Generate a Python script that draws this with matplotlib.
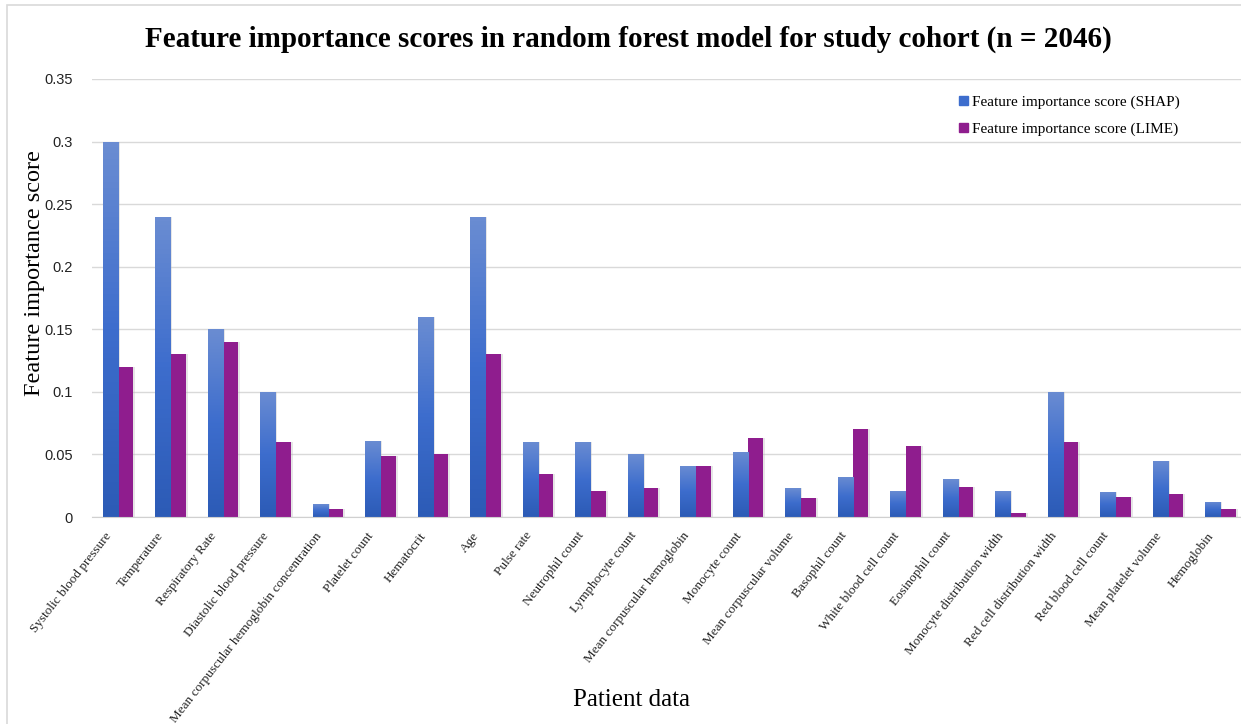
import matplotlib
matplotlib.use('Agg')
import matplotlib.pyplot as plt
import numpy as np
from matplotlib.colors import LinearSegmentedColormap
from matplotlib.patches import Patch, Rectangle
import matplotlib.transforms as mtransforms

features = [
    'Systolic blood pressure', 'Temperature', 'Respiratory Rate', 'Diastolic blood pressure',
    'Mean corpuscular hemoglobin concentration', 'Platelet count', 'Hematocrit', 'Age',
    'Pulse rate', 'Neutrophil count', 'Lymphocyte count', 'Mean corpuscular hemoglobin',
    'Monocyte count', 'Mean corpuscular volume', 'Basophil count', 'White blood cell count',
    'Eosinophil count', 'Monocyte distribution width', 'Red cell distribution width',
    'Red blood cell count', 'Mean platelet volume', 'Hemoglobin',
]
shap = [0.30, 0.24, 0.15, 0.10, 0.010, 0.061, 0.16, 0.24, 0.060, 0.060, 0.050, 0.041,
        0.052, 0.023, 0.032, 0.021, 0.030, 0.021, 0.10, 0.020, 0.045, 0.012]
lime = [0.12, 0.13, 0.14, 0.06, 0.006, 0.049, 0.05, 0.13, 0.034, 0.021, 0.023, 0.041,
        0.063, 0.015, 0.070, 0.057, 0.024, 0.003, 0.06, 0.016, 0.018, 0.006]

serif = ['Liberation Serif', 'DejaVu Serif']
sans = ['Liberation Sans', 'DejaVu Sans']

fig = plt.figure(figsize=(12.41, 7.24), dpi=100)
ax = fig.add_axes([0.0741, 0.2859, 0.9307, 0.605])

x = np.arange(len(features))
w = 0.29
blue_cmap = LinearSegmentedColormap.from_list('shap', ['#2c5bb6', '#3d6dcd', '#6a8cd2'])
grad = np.linspace(0, 1, 64).reshape(-1, 1)

# faint drop shadow behind bars
ax.bar(x - w / 2 + 0.03, shap, w, color='#b8b8b8', alpha=0.35, zorder=1.5)
ax.bar(x + w / 2 + 0.03, lime, w, color='#b8b8b8', alpha=0.35, zorder=1.5)

bars_s = ax.bar(x - w / 2, shap, w, color='#3d6dcd', zorder=2)
bars_l = ax.bar(x + w / 2, lime, w, color='#8f1d8e', zorder=2)

# vertical gradient on the SHAP bars
for b in bars_s:
    x0, y0 = b.get_x(), b.get_y()
    im = ax.imshow(grad, cmap=blue_cmap, origin='lower', aspect='auto',
                   extent=[x0, x0 + b.get_width(), y0, y0 + b.get_height()], zorder=2.1)
    im.set_clip_path(b)

ax.set_xlim(-0.5, len(features) - 0.5)
ax.set_ylim(0, 0.35)
ax.set_yticks(np.arange(0, 0.351, 0.05))
ax.set_yticklabels(['0', '0.05', '0.1', '0.15', '0.2', '0.25', '0.3', '0.35'],
                   family=sans, fontsize=10.5, color='#222222')
ax.grid(axis='y', color='#d9d9d9', linewidth=1.0, zorder=0)
ax.set_axisbelow(True)
for s in ['top', 'right', 'left']:
    ax.spines[s].set_visible(False)
ax.spines['bottom'].set_color('#d0d0d0')
ax.tick_params(length=0, pad=14)
ax.tick_params(axis='x', pad=12)

ax.set_xticks(x)
ax.set_xticklabels(features, rotation=52, ha='right', va='center', rotation_mode='anchor',
                   family=serif, fontsize=9.5, color='#222222')
shift = mtransforms.ScaledTranslation(-9 / 100, 0, fig.dpi_scale_trans)
for lbl in ax.get_xticklabels():
    lbl.set_transform(lbl.get_transform() + shift)

fig.text(0.506, 0.945, 'Feature importance scores in random forest model for study cohort (n = 2046)',
         ha='center', va='center', family=serif, fontsize=21, fontweight='bold')
fig.text(0.028, 0.623, 'Feature importance score', rotation=90, ha='center', va='center',
         family=serif, fontsize=17.5)
fig.text(0.509, 0.033, 'Patient data', ha='center', va='center', family=serif, fontsize=18)

handles = [Patch(color='#3d6dcd', label='Feature importance score (SHAP)'),
           Patch(color='#8f1d8e', label='Feature importance score (LIME)')]
fig.legend(handles=handles, loc='upper left', bbox_to_anchor=(0.762, 0.887),
           frameon=False, prop={'family': serif, 'size': 11},
           handlelength=0.55, handleheight=0.55, handletextpad=0.3, labelspacing=0.9)

# chart frame (right and bottom edges fall outside the canvas)
fig.patches.append(Rectangle((7 / 1241, -0.05), 1.05, 1 - 5 / 724 + 0.05, fill=False,
                             edgecolor='#d9d9d9', linewidth=1.2, transform=fig.transFigure))

fig.savefig('out.png', dpi=100)
